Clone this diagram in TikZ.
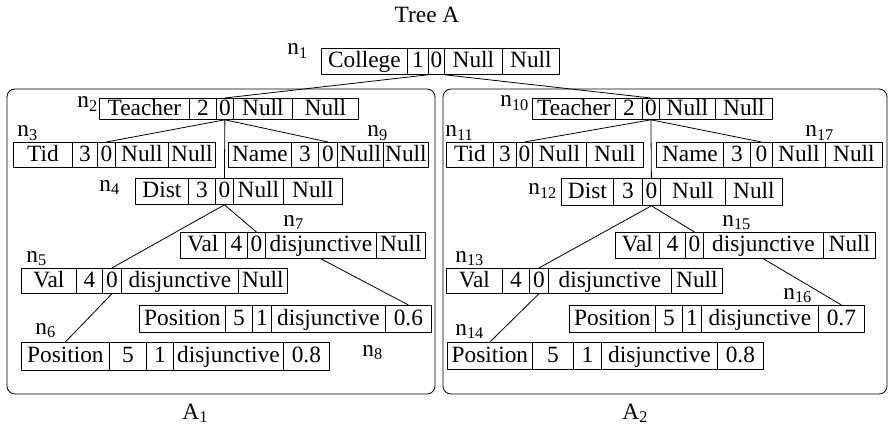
\documentclass[tikz,border=0pt]{standalone}
\usepackage{fontspec}
\setmainfont{Liberation Serif}
\usepackage{tikz}

\newcommand{\recnode}[5]{%
	\foreach \rx/\txt [remember=\rx as \lx (initially #4), count=\i] in {#5}
		\node[fld, minimum width={(\rx-\lx)*0.75pt}, minimum height={(#3-#2)*0.75pt}] (#1-\i) at (\lx,#2) {\txt};
}

\begin{document}
\begin{tikzpicture}[x=0.75pt, y=-0.75pt, line width=0.6pt, font=\fontsize{17.5}{20}\selectfont]
		\tikzstyle{fld}=[draw, anchor=north west, inner sep=0pt, text height=12.5pt, text depth=3pt]
		\tikzstyle{lbl}=[inner sep=0pt, anchor=base west]
		\tikzstyle{panel}=[rounded corners=6pt]
		\useasboundingbox (0,0) rectangle (890,428);
		\node[inner sep=0pt, anchor=base] (title) at (427,23) {Tree A};
		\draw[panel] (7,89) rectangle (435,394);
		\draw[panel] (443,89) rectangle (887,394);
		\recnode{n1}{48}{74}{321}{407/College, 428/1, 444/0, 502/Null, 559/Null}
		\recnode{n2}{98}{119}{99}{189/Teacher, 216/2, 233/0, 292/Null, 358/Null}
		\recnode{n3}{142}{167}{13}{72/Tid, 97/3, 115/0, 168/Null, 215/Null}
		\recnode{n9}{142}{167}{228}{291/Name, 318/3, 337/0, 383/Null, 428/Null}
		\recnode{n4}{178}{204}{135}{188/Dist, 215/3, 233/0, 283/Null, 342/Null}
		\recnode{n7}{232}{258}{180}{225/Val, 247/4, 265/0, 376/disjunctive, 425/Null}
		\recnode{n5}{268}{293}{21}{76/Val, 102/4, 121/0, 238/disjunctive, 287/Null}
		\recnode{n8}{305}{332}{139}{225/Position, 252/5, 271/1, 385/disjunctive, 431/0.6}
		\recnode{n6}{342}{370}{21}{109/Position, 146/5, 173/1, 283/disjunctive, 329/0.8}
		\recnode{n10}{98}{119}{532}{615/Teacher, 642/2, 659/0, 715/Null, 772/Null}
		\recnode{n11}{142}{167}{446}{493/Tid, 516/3, 532/0, 586/Null, 643/Null}
		\recnode{n17}{142}{167}{656}{723/Name, 750/3, 772/0, 825/Null, 882/Null}
		\recnode{n12}{178}{205}{561}{613/Dist, 642/3, 660/0, 725/Null, 782/Null}
		\recnode{n15}{232}{258}{615}{659/Val, 685/4, 703/0, 823/disjunctive, 875/Null}
		\recnode{n13}{268}{293}{446}{502/Val, 529/4, 548/0, 671/disjunctive, 722/Null}
		\recnode{n16}{305}{332}{569}{655/Position, 682/5, 701/1, 818/disjunctive, 864/0.7}
		\recnode{n14}{342}{369}{447}{532/Position, 573/5, 601/1, 717/disjunctive, 763/0.8}
		\node[lbl] (ln1) at (287,55) {n\textsubscript{1}};
		\node[lbl] (ln2) at (77,108) {n\textsubscript{2}};
		\node[lbl] (ln3) at (17,137) {n\textsubscript{3}};
		\node[lbl] (ln4) at (99,191) {n\textsubscript{4}};
		\node[lbl] (ln5) at (26,262) {n\textsubscript{5}};
		\node[lbl] (ln6) at (35,334) {n\textsubscript{6}};
		\node[lbl] (ln7) at (283,226) {n\textsubscript{7}};
		\node[lbl] (ln8) at (362,356) {n\textsubscript{8}};
		\node[lbl] (ln9) at (367,137) {n\textsubscript{9}};
		\node[lbl] (ln10) at (500,107) {n\textsubscript{10}};
		\node[lbl] (ln11) at (445,137) {n\textsubscript{11}};
		\node[lbl] (ln12) at (528,195) {n\textsubscript{12}};
		\node[lbl] (ln13) at (455,262) {n\textsubscript{13}};
		\node[lbl] (ln14) at (455,335) {n\textsubscript{14}};
		\node[lbl] (ln15) at (722,226) {n\textsubscript{15}};
		\node[lbl] (ln16) at (783,299) {n\textsubscript{16}};
		\node[lbl] (ln17) at (805,137) {n\textsubscript{17}};
		\node[lbl] (a1) at (182,419) {A\textsubscript{1}};
		\node[lbl] (a2) at (622,419) {A\textsubscript{2}};
		\draw (n1-3.south west) -- (n2-3.north);
		\draw (n1-3.south east) -- (n10-3.north);
		\draw (n2-3.south) -- (n3-3.north);
		\draw (n2-3.south) -- (n4-3.north);
		\draw (n2-3.south) -- (n9-3.north);
		\draw (n4-3.south) -- (n5-3.north);
		\draw (n4-3.south) -- (n7-3.north);
		\draw (n5-3.south) -- (n6-1.north);
		\draw (n7-4.south) -- (n8-5.north);
		\draw (n10-3.south) -- (n11-3.north);
		\draw (n10-3.south) -- (n12-3.north);
		\draw (n10-3.south) -- (n17-3.north);
		\draw (n12-3.south) -- (n13-3.north);
		\draw (n12-3.south) -- (n15-3.north);
		\draw (n13-3.south) -- (n14-1.north);
		\draw (n15-4.south) -- (n16-5.north);
	\end{tikzpicture}
\end{document}
